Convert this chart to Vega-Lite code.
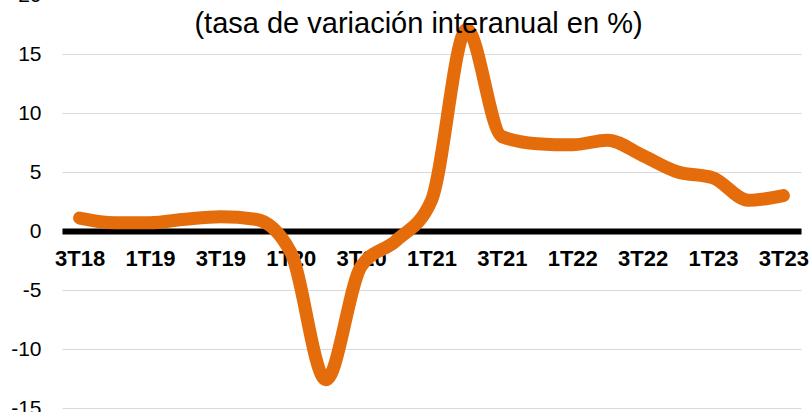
{
  "$schema": "https://vega.github.io/schema/vega-lite/v6.json",
  "width": 739,
  "height": 408,
  "autosize": {"type": "none"},
  "padding": {"left": 62, "top": 0, "right": 8, "bottom": 4},
  "background": "white",
  "config": {
    "view": {"stroke": null},
    "font": "Liberation Sans"
  },
  "data": {
    "values": [
      {"q": "3T18", "v": 1.1},
      {"q": "4T18", "v": 0.7},
      {"q": "1T19", "v": 0.7},
      {"q": "2T19", "v": 1.0},
      {"q": "3T19", "v": 1.2},
      {"q": "4T19", "v": 1.0},
      {"q": "1T20", "v": -1.8},
      {"q": "2T20", "v": -12.6},
      {"q": "3T20", "v": -3.0},
      {"q": "4T20", "v": -0.8},
      {"q": "1T21", "v": 2.6},
      {"q": "2T21", "v": 17.1},
      {"q": "3T21", "v": 8.0},
      {"q": "4T21", "v": 7.4},
      {"q": "1T22", "v": 7.3},
      {"q": "2T22", "v": 7.7},
      {"q": "3T22", "v": 6.4},
      {"q": "4T22", "v": 5.0},
      {"q": "1T23", "v": 4.5},
      {"q": "2T23", "v": 2.6},
      {"q": "3T23", "v": 3.0}
    ]
  },
  "layer": [
    {
      "mark": {
        "type": "line",
        "color": "#E46C0A",
        "strokeWidth": 13,
        "strokeCap": "round",
        "strokeJoin": "round",
        "interpolate": "monotone"
      },
      "encoding": {
        "x": {
          "field": "q",
          "type": "ordinal",
          "sort": null,
          "scale": {"type": "point", "padding": 0.5},
          "axis": {
            "title": null,
            "offset": -177,
            "values": ["3T18", "1T19", "3T19", "1T20", "3T20", "1T21", "3T21", "1T22", "3T22", "1T23", "3T23"],
            "labelAngle": 0,
            "labelFontSize": 22,
            "labelFontWeight": "bold",
            "labelColor": "#000000",
            "labelFont": "Liberation Sans",
            "labelPadding": 17,
            "labelBaseline": "top",
            "ticks": false,
            "domain": true,
            "domainColor": "#000000",
            "domainWidth": 6,
            "grid": false
          }
        },
        "y": {
          "field": "v",
          "type": "quantitative",
          "scale": {"domain": [-15, 20], "nice": false, "zero": false, "range": [408, -5]},
          "axis": {
            "title": null,
            "values": [-15, -10, -5, 0, 5, 10, 15, 20],
            "labelExpr": "'' + datum.value",
            "domain": false,
            "ticks": false,
            "grid": true,
            "gridColor": "#D9D9D9",
            "gridWidth": 1,
            "labelFontSize": 21,
            "labelColor": "#000000",
            "labelFont": "Liberation Sans",
            "labelPadding": 21
          }
        }
      }
    },
    {
      "transform": [{"filter": "datum.q == '1T21'"}],
      "mark": {
        "type": "text",
        "fontSize": 29,
        "font": "Liberation Sans",
        "fill": "#000000",
        "align": "center",
        "baseline": "alphabetic",
        "dx": -13
      },
      "encoding": {
        "x": {"field": "q", "type": "ordinal", "sort": null},
        "y": {"datum": 16.8, "type": "quantitative"},
        "text": {"value": "(tasa de variación interanual en %)"}
      }
    }
  ]
}
